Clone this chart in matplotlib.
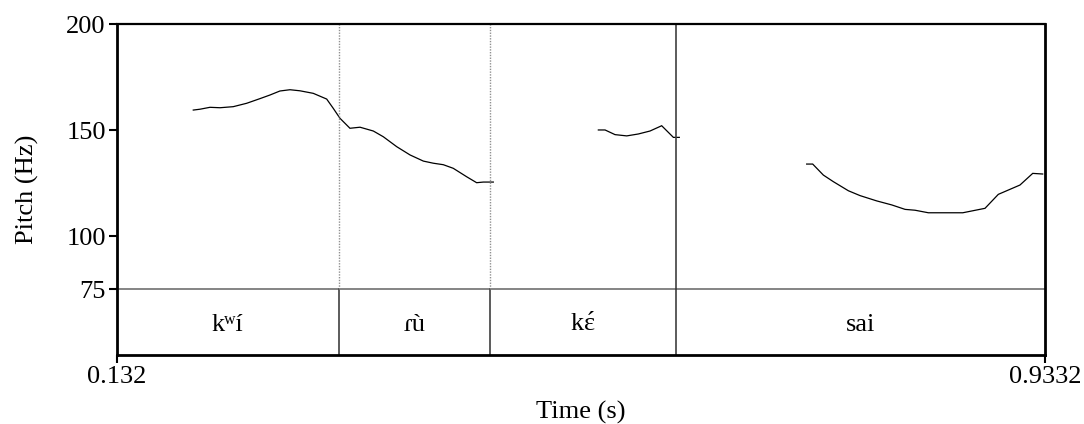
import numpy as np
import matplotlib
matplotlib.use("Agg")
import matplotlib.pyplot as plt

plt.rcParams['font.family'] = ['Liberation Serif', 'DejaVu Serif']
plt.rcParams['mathtext.fontset'] = 'custom'
plt.rcParams['mathtext.rm'] = 'Liberation Serif'

# pitch track, voiced stretches (time s, F0 Hz)
seg1_t = [0.1979, 0.2037, 0.2123, 0.2210, 0.2324, 0.2440, 0.2555, 0.2641, 0.2727,
          0.2814, 0.2900, 0.3015, 0.3131, 0.3188, 0.3246, 0.3332, 0.3419, 0.3534,
          0.3620, 0.3736, 0.3851, 0.3966, 0.4052, 0.4138, 0.4224, 0.4340, 0.4426,
          0.4484, 0.4570]
seg1_f = [159.5, 159.9, 160.8, 160.6, 161.1, 162.7, 164.9, 166.6, 168.5,
          169.1, 168.6, 167.4, 164.7, 160.3, 155.6, 150.9, 151.4, 149.6,
          146.9, 142.2, 138.3, 135.4, 134.4, 133.7, 132.0, 128.0, 125.2,
          125.5, 125.5]
seg2_t = [0.5477, 0.5535, 0.5621, 0.5722, 0.5822, 0.5923, 0.6024, 0.6125, 0.6176]
seg2_f = [150.1, 150.1, 147.9, 147.3, 148.2, 149.6, 152.1, 146.6, 146.6]
seg3_t = [0.7276, 0.7328, 0.7420, 0.7506, 0.7636, 0.7737, 0.7881, 0.8011, 0.8126,
          0.8212, 0.8327, 0.8624, 0.8816, 0.8931, 0.9118, 0.9228, 0.9314]
seg3_f = [134.0, 134.0, 128.8, 125.7, 121.4, 119.1, 116.6, 114.7, 112.6,
          112.2, 111.0, 111.0, 113.1, 119.7, 124.1, 129.6, 129.3]

# text grid tier
t_start, t_end = 0.132, 0.9332
boundaries = [0.3235, 0.4539, 0.6150]
boundary_dotted = [True, True, False]
labels = ["k\u02b7\u00ed", "\u027e\u00f9", "k$\\acute{\\mathrm{\u025b}}$", "sai"]

y_ticks = [200, 150, 100, 75]
f_min, f_max = 75, 200
tier_bottom = 43.83
FS = 19

fig = plt.figure(figsize=(10.84, 4.24), dpi=100)
ax = fig.add_axes([0.1079, 0.1627, 0.8559, 0.7800])

for tt, ff in [(seg1_t, seg1_f), (seg2_t, seg2_f), (seg3_t, seg3_f)]:
    ax.plot(tt, ff, color='black', lw=0.9, solid_joinstyle='miter')

# tier separator and boundaries
ax.axhline(f_min, color='#707070', lw=1.2)
for b, dotted in zip(boundaries, boundary_dotted):
    ax.plot([b, b], [tier_bottom, f_min], color='#404040', lw=1.2)
    if dotted:
        ax.plot([b, b], [f_min, f_max], color='#909090', lw=1.0, ls=(0, (1, 1)))
    else:
        ax.plot([b, b], [f_min, f_max], color='#404040', lw=1.2)

ax.set_xlim(t_start, t_end)
ax.set_ylim(tier_bottom, f_max)

edges = [t_start] + boundaries + [t_end]
for i, lab in enumerate(labels):
    mid = (edges[i] + edges[i + 1]) / 2
    ax.text(mid, (tier_bottom + f_min) / 2, lab, ha='center', va='center_baseline',
            fontsize=FS)

ax.set_yticks(y_ticks)
ax.set_yticklabels([str(v) for v in y_ticks])
ax.set_xticks([t_start, t_end])
ax.set_xticklabels(["0.132", "0.9332"])
ax.tick_params(axis='both', direction='out', length=6, width=1.5, labelsize=FS, pad=2)
for s in ax.spines.values():
    s.set_linewidth(2.0)
    s.set_color('black')
ax.spines['top'].set_linewidth(1.6)

ax.set_ylabel("Pitch (Hz)", fontsize=FS, labelpad=20)
ax.set_xlabel("Time (s)", fontsize=FS, labelpad=9)

fig.savefig("out.png", dpi=100)
